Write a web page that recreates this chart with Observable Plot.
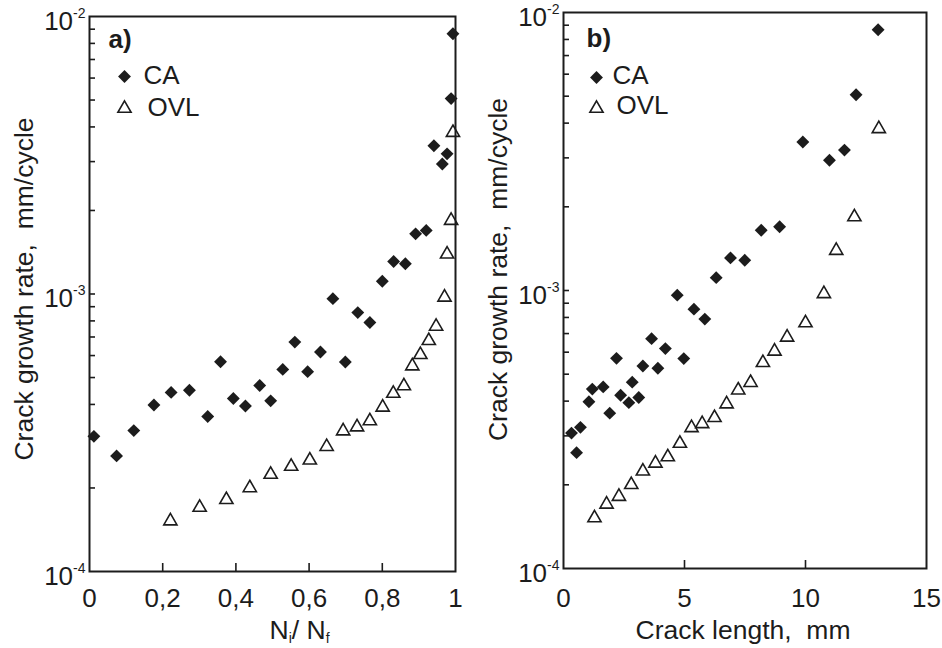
<!DOCTYPE html>
<html><head><meta charset="utf-8">
<script src="https://cdn.jsdelivr.net/npm/d3@7"></script>
<script src="https://cdn.jsdelivr.net/npm/@observablehq/plot@0.6"></script>
<style>
body{margin:0;background:#fff;}
#wrap{display:flex;width:942px;height:648px;}
#wrap > div{width:471px;height:648px;}
</style></head><body><div id="wrap"><div id="pa"></div><div id="pb"></div></div>
<script>
// Crack growth rate, mm/cycle — constant amplitude (CA)
const caRate = [3.07e-4, 2.61e-4, 3.22e-4, 3.98e-4, 4.42e-4, 4.50e-4, 3.62e-4, 5.70e-4, 4.20e-4, 3.95e-4,
  4.68e-4, 4.12e-4, 5.35e-4, 6.71e-4, 5.25e-4, 6.18e-4, 9.62e-4, 5.69e-4, 8.57e-4, 7.89e-4,
  1.112e-3, 1.31e-3, 1.285e-3, 1.647e-3, 1.695e-3, 3.42e-3, 2.94e-3, 3.20e-3, 5.06e-3, 8.67e-3];
const caRatio = [0.012, 0.074, 0.121, 0.176, 0.223, 0.273, 0.323, 0.358, 0.393, 0.426,
  0.465, 0.495, 0.528, 0.561, 0.596, 0.631, 0.665, 0.699, 0.733, 0.766,
  0.800, 0.831, 0.863, 0.891, 0.920, 0.941, 0.964, 0.977, 0.988, 0.993];
const caLength = [0.33, 0.54, 0.70, 1.05, 1.19, 1.64, 1.91, 2.19, 2.36, 2.70,
  2.84, 3.11, 3.28, 3.64, 3.90, 4.21, 4.70, 4.97, 5.39, 5.84,
  6.31, 6.90, 7.49, 8.17, 8.93, 9.89, 10.99, 11.61, 12.09, 13.0];
// Overload (OVL)
const ovlRate = [1.545e-4, 1.73e-4, 1.845e-4, 2.035e-4, 2.275e-4, 2.43e-4, 2.56e-4, 2.865e-4, 3.26e-4, 3.37e-4,
  3.545e-4, 3.97e-4, 4.455e-4, 4.74e-4, 5.59e-4, 6.145e-4, 6.90e-4, 7.77e-4, 9.89e-4, 1.415e-3, 1.87e-3, 3.88e-3];
const ovlRatio = [0.221, 0.301, 0.374, 0.438, 0.495, 0.551, 0.602, 0.648, 0.693, 0.731,
  0.766, 0.801, 0.830, 0.859, 0.882, 0.904, 0.927, 0.947, 0.970, 0.977, 0.988, 0.993];
const ovlLength = [1.28, 1.78, 2.29, 2.80, 3.28, 3.80, 4.31, 4.81, 5.29, 5.73,
  6.24, 6.74, 7.22, 7.73, 8.24, 8.72, 9.24, 10.0, 10.76, 11.27, 12.02, 13.03];

const yTicks = [1e-4, 1e-3, 1e-2];
const yMinor = [1e-3].concat([2,3,4,5,6,7,8,9].flatMap(k => [k * 1e-4, k * 1e-3]));
const xTicksA = [0, 0.2, 0.4, 0.6, 0.8, 1];
const xTicksB = [0, 5, 10, 15];
const seriesNames = ["CA", "OVL"];
const yLabel = "Crack growth rate,\u00a0 mm/cycle";
const xLabelA = "Ni/ Nf";
const xLabelB = "Crack length,\u00a0 mm";

const W = 471, H = 648, MR = 16;
const ink = "#1c1c1c";
const font = "'Liberation Sans', Arial, Helvetica, sans-serif";
const svgns = "http://www.w3.org/2000/svg";

function panel(cfg) {
  const fh = H - cfg.mt - cfg.mb, fw = W - cfg.ml - MR;
  const ca = caRate.map((v, i) => ({x: cfg.caX[i], y: v}));
  const ovl = ovlRate.map((v, i) => ({x: cfg.ovlX[i], y: v}));
  const L = cfg.leg;
  const T = {textAnchor: "start", lineAnchor: "middle", frameAnchor: "top-left", fontSize: 26, fill: ink};
  const plot = Plot.plot({
    width: W, height: H,
    marginLeft: cfg.ml, marginRight: MR, marginTop: cfg.mt, marginBottom: cfg.mb,
    style: {fontFamily: font, fontSize: "26px", color: ink, background: "white", overflow: "visible"},
    x: {domain: cfg.xDomain},
    y: {type: "log", domain: [1e-4, 1e-2]},
    marks: [
      Plot.frame({stroke: ink, strokeWidth: 2}),
      Plot.tickX(cfg.xInner, {x: d => d, insetTop: fh - 8, stroke: ink, strokeWidth: 1.6}),
      Plot.tickY(yMinor, {y: d => d, insetRight: fw - 6, stroke: ink, strokeWidth: 1.6}),
      Plot.axisX({ticks: cfg.xTicks, tickSize: 0, tickPadding: cfg.xPad, tickFormat: cfg.xFormat, label: null, fontSize: 26, fill: ink}),
      Plot.axisY({ticks: yTicks, tickSize: 0, tickPadding: 4, tickFormat: d => String(Math.round(Math.log10(d))), label: null, dy: 5, fontSize: 26, fill: ink}),
      Plot.dot(ovl, {x: "x", y: "y", symbol: "triangle", r: 4.9, stroke: ink, strokeWidth: 1.6, fill: "none", dy: 2}),
      Plot.dot(ca, {x: "x", y: "y", symbol: "diamond2", r: 5.8, fill: ink}),
      // panel letter and legend
      Plot.text([cfg.letter], {...T, text: d => d, dx: L.lx, dy: L.ly, fontWeight: "bold"}),
      Plot.dot([seriesNames[0]], {frameAnchor: "top-left", dx: L.mx, dy: L.cy, symbol: "diamond2", r: 5.8, fill: ink}),
      Plot.text([seriesNames[0]], {...T, text: d => d, dx: L.cx, dy: L.cty}),
      Plot.dot([seriesNames[1]], {frameAnchor: "top-left", dx: L.mx, dy: L.oy, symbol: "triangle", r: 4.9, stroke: ink, strokeWidth: 1.6, fill: "none"}),
      Plot.text([seriesNames[1]], {...T, text: d => d, dx: L.ox, dy: L.oty}),
      // axis titles
      Plot.text([yLabel], {text: d => d, frameAnchor: "left", textAnchor: "middle", lineAnchor: "middle", rotate: -90, dx: -65, dy: cfg.ylDy, fontSize: 26.5, fill: ink}),
      Plot.text([cfg.xLabel], {text: d => d, frameAnchor: "bottom", textAnchor: "middle", lineAnchor: "middle", dx: cfg.xlDx, dy: cfg.xlDy, fontSize: 26.5, fill: ink})
    ]
  });
  // superscript exponents on y tick labels
  plot.querySelectorAll('g[aria-label="y-axis tick label"] text').forEach(t => {
    const e = t.textContent;
    t.textContent = "10";
    const ts = document.createElementNS(svgns, "tspan");
    ts.setAttribute("dy", "-12");
    ts.setAttribute("font-size", "14");
    ts.textContent = e;
    t.appendChild(ts);
  });
  if (cfg.subscript) {
    const t = Array.from(plot.querySelectorAll("text")).find(el => el.textContent === xLabelA);
    if (t) {
      t.textContent = "";
      const parts = [["N", 0, null], ["i", 4, 14], ["/ N", -4, null], ["f", 4, 14]];
      parts.forEach(([s, dy, fs]) => {
        const ts = document.createElementNS(svgns, "tspan");
        if (dy) ts.setAttribute("dy", dy);
        if (fs) ts.setAttribute("font-size", fs);
        ts.textContent = s;
        t.appendChild(ts);
      });
    }
  }
  return plot;
}

const fmtA = d => d === 0 ? "0" : d === 1 ? "1" : d.toFixed(1).replace(".", ",");

document.getElementById("pa").appendChild(panel({
  caX: caRatio, ovlX: ovlRatio, xDomain: [0, 1], xTicks: xTicksA, xInner: [0.2, 0.4, 0.6, 0.8],
  xFormat: fmtA, ml: 89, mt: 16, mb: 77, xPad: 17, letter: "a)",
  leg: {lx: 19, ly: 23, mx: 35, cy: 60, cx: 54, cty: 59, oy: 92, ox: 58, oty: 91},
  ylDy: -5, xLabel: xLabelA, xlDx: 27, xlDy: 59, subscript: true
}));
document.getElementById("pb").appendChild(panel({
  caX: caLength, ovlX: ovlLength, xDomain: [0, 15], xTicks: xTicksB, xInner: [5, 10],
  xFormat: d => String(d), ml: 92, mt: 12, mb: 80, xPad: 20, letter: "b)",
  leg: {lx: 23, ly: 26, mx: 33, cy: 65, cx: 49, cty: 63, oy: 96, ox: 53, oty: 93},
  ylDy: -21, xLabel: xLabelB, xlDx: -2, xlDy: 62, subscript: false
}));
</script></body></html>
